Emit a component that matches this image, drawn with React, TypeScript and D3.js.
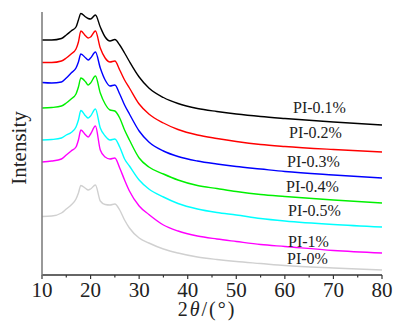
import React, { useEffect, useRef } from "react";
import * as d3 from "d3";

// 2theta sample grid (degrees)
const theta = [10, 12, 14, 15, 16, 17, 17.5, 18, 19, 19.5, 20, 21, 22, 23, 24, 25, 26, 27, 28, 30, 32, 35, 38, 42, 46, 50, 55, 60, 70, 80];

// stacked intensities (a.u.)
const pi01 = [235, 235, 236.5, 240, 244, 248, 255, 261.5, 258, 256.5, 256, 260, 248, 238, 234, 235.5, 230, 222, 213.5, 198, 187, 177.5, 171.5, 166.5, 163.5, 161, 158.5, 156.5, 153, 150];
const pi02 = [212.5, 212.5, 214, 217, 221, 226, 233, 244, 239, 237, 238, 244, 227, 217, 213, 214, 205, 195, 187, 171, 161, 152, 145.5, 140, 136.5, 133.5, 130.5, 128.5, 125.5, 123];
const pi03 = [192.5, 192, 193, 197, 202, 207, 213, 221, 217, 215, 217, 223, 207, 195, 189, 190, 181, 170, 161, 144, 133, 124, 118.5, 114, 111, 108.5, 106, 103.5, 100, 97];
const pi04 = [167, 167.5, 169, 172, 176, 181, 188, 197, 193, 190, 192, 199, 182, 171, 165, 164, 157, 145, 135, 117, 108, 101, 95, 89.5, 86.5, 83.5, 80.5, 78.5, 75, 72];
const pi05 = [135, 135.5, 137, 140, 142.5, 148, 155, 164.5, 159, 157, 159, 166, 147, 139, 135, 136, 128, 116, 109, 95, 86, 78, 71.5, 66, 62.5, 60, 56.5, 54, 50.5, 48];
const pi1 = [113, 114, 116, 120, 124, 128, 135, 145, 140, 138, 141, 149, 125, 118, 116, 117, 107, 95, 84, 69, 60.5, 50, 44, 39, 36, 33.5, 30.5, 28.5, 24.5, 22];
const pi0 = [58.5, 59, 62, 66, 70, 76, 82, 89.5, 86.5, 85, 86, 90, 74, 70.5, 70, 71, 65, 55, 47, 37, 32, 26, 22, 18, 15.5, 13.5, 11.5, 9.5, 7, 5];

const seriesNames = ["PI-0.1%", "PI-0.2%", "PI-0.3%", "PI-0.4%", "PI-0.5%", "PI-1%", "PI-0%"];
const seriesValues = [pi01, pi02, pi03, pi04, pi05, pi1, pi0];
const xTicks = [10, 20, 30, 40, 50, 60, 70, 80];

const colors = ["#000000", "#ff0000", "#0000ff", "#00f000", "#00ffff", "#ff00ff", "#d0d0d0"];
// label anchor (left x, baseline y) in px
const labelPos = [
  [293, 113],
  [289, 138],
  [287, 166.5],
  [286, 192],
  [288, 216],
  [288, 246.5],
  [287, 263.5],
];

const font = "'Liberation Serif', 'Times New Roman', serif";

const App: React.FC = () => {
  const ref = useRef<SVGSVGElement | null>(null);
  const width = 394;
  const height = 321;

  useEffect(() => {
    if (!ref.current) return;
    const svg = d3.select(ref.current);
    svg.selectAll("*").remove();

    const x = d3.scaleLinear().domain([10, 80]).range([42, 382]);
    const y = d3.scaleLinear().domain([0, 263]).range([275, 12]);

    const line = d3
      .line<number>()
      .x((_, i) => x(theta[i]))
      .y((d) => y(d))
      .curve(d3.curveMonotoneX);

    // curves
    seriesValues.forEach((vals, k) => {
      svg
        .append("path")
        .attr("d", line(vals) || "")
        .attr("fill", "none")
        .attr("stroke", colors[k])
        .attr("stroke-width", 1.4);
    });

    // labels
    seriesNames.forEach((name, k) => {
      svg
        .append("text")
        .attr("x", labelPos[k][0])
        .attr("y", labelPos[k][1])
        .attr("font-family", font)
        .attr("font-size", 16)
        .attr("fill", "#222")
        .text(name);
    });

    // x axis
    const xAxis = svg.append("g").attr("transform", `translate(0,${y(0)})`);
    xAxis
      .append("line")
      .attr("x1", x(10))
      .attr("x2", x(80))
      .attr("stroke", "#333")
      .attr("stroke-width", 1.3);
    xAxis
      .selectAll(".tk")
      .data(d3.range(10, 81, 5))
      .enter()
      .append("line")
      .attr("x1", (d) => x(d))
      .attr("x2", (d) => x(d))
      .attr("y1", 0)
      .attr("y2", (d) => (d % 10 === 0 ? 4 : 2.5))
      .attr("stroke", "#333")
      .attr("stroke-width", 1.2);
    xAxis
      .selectAll(".lbl")
      .data(xTicks)
      .enter()
      .append("text")
      .attr("x", (d) => x(d))
      .attr("y", 21.5)
      .attr("text-anchor", "middle")
      .attr("font-family", font)
      .attr("font-size", 21)
      .attr("fill", "#222")
      .text((d) => d);

    // y axis line
    svg
      .append("line")
      .attr("x1", x(10))
      .attr("x2", x(10))
      .attr("y1", 12)
      .attr("y2", y(0) + 1)
      .attr("stroke", "#777")
      .attr("stroke-width", 1.5);

    // axis titles
    const xt = svg
      .append("text")
      .attr("x", 207)
      .attr("y", 316)
      .attr("text-anchor", "middle")
      .attr("font-family", font)
      .attr("font-size", 20)
      .attr("letter-spacing", 2)
      .attr("fill", "#222");
    xt.append("tspan").text("2");
    xt.append("tspan").attr("font-style", "italic").text("θ");
    xt.append("tspan").text("/(°)");

    svg
      .append("text")
      .attr("transform", "rotate(-90)")
      .attr("x", -148)
      .attr("y", 26)
      .attr("text-anchor", "middle")
      .attr("font-family", font)
      .attr("font-size", 21)
      .attr("fill", "#222")
      .text("Intensity");
  }, []);

  return (
    <svg
      ref={ref}
      width={width}
      height={height}
      style={{ position: "absolute", left: 0, top: 0, background: "#fff" }}
    />
  );
};

export default App;
